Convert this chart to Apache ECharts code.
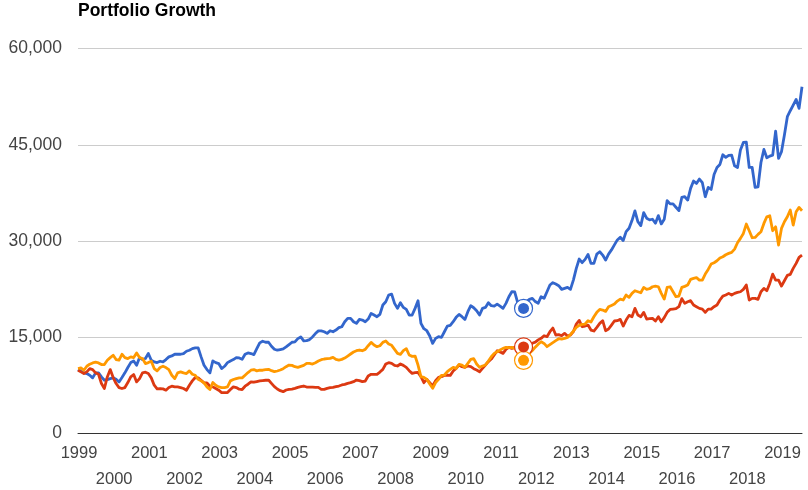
<!DOCTYPE html>
<html><head><meta charset="utf-8">
<style>html,body{margin:0;padding:0;background:#fff}#c{width:808px;height:490px}</style>
<script src="https://cdn.jsdelivr.net/npm/echarts@6/dist/echarts.min.js"></script>
</head><body><div id="c"></div>
<script>
const chartTitle = 'Portfolio Growth';
const firstYear = 1999;
const valueTicks = [0, 15000, 30000, 45000, 60000];
const blueValues = [
9965,9700,9450,9340,9080,8670,9450,9450,8820,8300,8400,8560,
8670,8460,8040,8720,9450,10280,11050,11300,10640,11830,11520,11680,
12460,11420,11160,11050,11260,11160,11520,11940,12090,12350,12350,12350,
12460,12820,12980,13230,13340,13340,11940,10640,9960,9450,11310,11050,
10900,10120,10480,11050,11310,11520,11830,11780,11570,12350,12560,12460,
12300,13230,14120,14380,14220,14220,13600,13130,12980,13080,13180,13490,
13860,14220,14270,14790,15050,14430,14480,14640,15050,15570,15990,15990,
15860,15600,16020,15860,16120,16490,16640,17420,17940,17940,17420,17160,
17780,17680,17420,17840,18720,18460,18200,18560,20020,20540,21580,21730,
20280,19500,20380,19650,19340,18460,18460,19500,20690,17160,16330,16020,
15190,14040,14820,15080,14980,15860,16750,16850,17420,18100,18560,18200,
17780,18980,19920,19600,19140,18460,19500,19650,20380,19920,19860,20170,
19860,19500,20280,21320,22100,22050,20380,20280,20280,20540,20900,21060,
20560,20300,21320,21060,22100,23140,23500,23290,23030,22460,22620,22770,
22460,23910,25730,27190,26620,27140,27910,26510,26510,27960,28330,27810,
27030,27960,28610,29390,30170,30590,30070,31470,31990,33180,34690,33030,
32400,34430,33550,33290,33390,32770,33960,32660,33390,36300,35780,35780,
35260,34740,36790,36900,36380,38200,39340,38970,39650,39080,36900,38350,
38040,40370,41460,41930,43440,43030,43340,43390,41720,41460,44170,45360,
45410,41460,41460,38350,38450,42240,44270,42970,43230,43390,47130,42870,
43910,46510,49370,50300,51180,52060,50660,54030
];
const redValues = [
9860,9600,9340,9600,10120,9960,9450,9240,7790,7010,8820,9960,
8720,7790,7160,7010,7160,7940,8820,9190,8040,8560,9450,9550,
9340,8670,7530,6950,7010,6950,6750,7160,7370,7270,7270,7160,
7010,6750,7530,8200,8720,8670,8300,7890,7890,7370,7270,7010,
6750,6380,6380,6380,6850,7270,7160,6900,6850,7370,7680,8040,
7990,8100,8200,8250,8300,8330,7820,7300,6930,6670,6520,6780,
6880,6930,7040,7190,7300,7400,7240,7240,7240,7190,7190,6880,
6880,7040,7140,7190,7300,7400,7560,7660,7820,7920,8080,8330,
8230,8080,8180,8960,9220,9220,9220,9580,9990,10830,11040,10930,
10620,10520,10830,10620,10310,9790,9370,9480,9530,8850,7920,8440,
7920,7400,8230,8750,8850,9060,9110,9060,9740,10150,10670,10410,
10310,10520,10410,10100,9890,9630,10150,10670,11190,11600,12230,12900,
12700,12490,13110,13420,13270,13420,13270,13270,13420,14050,13550,14070,
14230,14590,14830,15240,15090,15870,16440,15350,15400,15240,15610,15190,
15350,15870,17060,17630,16640,16750,16900,16120,15970,16540,17160,17580,
16020,16280,16900,17530,17580,17790,16750,17680,18410,18200,19500,18460,
18200,18880,17840,17890,17940,17530,18200,17420,18050,18880,19340,19390,
19450,19760,21010,20280,20540,20700,20020,19760,19500,19390,18880,19390,
19390,19760,20020,20800,21420,21580,21840,21580,21840,21990,22090,22460,
23140,20800,21060,21060,20910,22090,22610,22250,23390,24840,23910,23910,
22980,23810,24640,24800,25730,26510,27450,27800
];
const orangeValues = [
10120,10220,9860,10480,10800,11000,11110,11000,10740,10740,11420,11830,
12200,11520,11420,12350,11830,11680,11940,11830,12560,11830,11680,10900,
11050,11260,10120,9760,10280,10480,10280,9960,9080,8560,9450,9600,
9450,9340,9760,9240,9080,8460,8200,7890,7270,6850,7940,7530,
7270,7160,7160,7270,8200,8410,8560,8670,8670,9080,9500,9860,
9960,9760,9860,9860,9960,10000,9790,9640,9740,9890,10100,10410,
10670,10620,10410,10310,10460,10620,10930,10930,10830,11040,11300,11500,
11610,11660,11710,11870,11550,11450,11550,11760,12070,12390,12700,12900,
13010,12900,13110,13680,14200,13790,13530,13680,14200,14410,13940,13740,
13110,12490,12330,12900,13220,12230,12020,12070,10670,8850,8750,8440,
7710,7040,7920,8440,9060,9110,9630,10000,10310,10150,10780,10670,
10310,10930,11550,11660,10830,10310,10520,10670,11300,11970,12490,12750,
13010,13270,13420,13370,13420,13270,12900,12650,12490,12590,12510,12930,
13450,13920,14300,14040,13530,13840,14150,14460,14770,14720,14820,14980,
15400,15970,16540,16850,17010,17060,17580,17370,18200,18880,19340,19240,
19030,19750,19960,20170,20640,20950,20800,21580,21220,21840,22250,22090,
21940,22770,22460,22560,22870,22980,22870,21840,20950,22770,22870,22090,
21320,21420,22770,22930,23140,24020,24170,24280,23910,23910,24840,25570,
26400,26610,26920,27340,27550,27860,28070,28230,28740,29730,30410,31180,
32640,31600,30510,30560,31030,31440,32740,33780,33930,31600,32220,29370,
31960,33000,33780,34820,32480,34560,35240,34720
];
const markerMonth = '2011-09';
const markerBlue = 19500;
const markerRed = 13500;
const markerOrange = 11400;

const BLUE = '#3366CC', RED = '#DC3912', ORANGE = '#FF9900';
const months = blueValues.map((_, i) => {
  const y = firstYear + Math.floor(i / 12), m = i % 12 + 1;
  return y + '-' + String(m).padStart(2, '0');
});
const FONT = 'Arial, "Liberation Sans", sans-serif';

function lineSeries(name, values, color) {
  return { name, type: 'line', data: values, showSymbol: false, smooth: false,
    lineStyle: { color, width: 2.8, join: 'round' }, itemStyle: { color }, silent: true };
}
function markerSeries(name, value, color) {
  return [
    { name: name + ' ring', type: 'scatter', data: [[markerMonth, value]], symbol: 'circle', symbolSize: 18,
      itemStyle: { color: '#fff', borderColor: color, borderWidth: 1.2, opacity: 1 }, z: 5, silent: true },
    { name: name + ' dot', type: 'scatter', data: [[markerMonth, value]], symbol: 'circle', symbolSize: 11,
      itemStyle: { color, opacity: 1 }, z: 6, silent: true }
  ];
}
function yearAxis(odd, margin, showLine) {
  return {
    type: 'category', data: months, boundaryGap: false, position: 'bottom',
    axisTick: { show: false },
    axisLine: { show: showLine, onZero: false, lineStyle: { color: '#333', width: 1 } },
    splitLine: { show: false },
    axisLabel: {
      interval: (i) => i % 12 === 0 && (Math.floor(i / 12) % 2 === 0) === odd,
      hideOverlap: false,
      margin, color: '#444', fontFamily: FONT, fontSize: 16.5, verticalAlign: 'top',
      padding: [0, 0, 0, 2],
      formatter: (v) => v.slice(0, 4)
    }
  };
}
const chart = echarts.init(document.getElementById('c'), null, { renderer: 'canvas' });
chart.setOption({
  animation: false,
  backgroundColor: '#fff',
  title: { text: chartTitle, left: 78, top: 2, padding: 0,
    textStyle: { fontFamily: FONT, fontSize: 17.5, fontWeight: 'bold', color: '#000' } },
  grid: { left: 78, right: 6, top: 48.5, bottom: 56.5, outerBoundsMode: 'none' },
  xAxis: [ yearAxis(true, 11.5, true), yearAxis(false, 37, false) ],
  yAxis: {
    type: 'value', min: valueTicks[0], max: valueTicks[valueTicks.length - 1], interval: valueTicks[1],
    axisLine: { show: false }, axisTick: { show: false },
    splitLine: { lineStyle: { color: '#ccc', width: 1 } },
    axisLabel: { margin: 16, color: '#444', fontFamily: FONT, fontSize: 17.5, padding: [2, 0, 0, 0],
      formatter: (v) => v.toLocaleString('en-US') }
  },
  series: [
    lineSeries('Blue', blueValues, BLUE),
    lineSeries('Red', redValues, RED),
    lineSeries('Orange', orangeValues, ORANGE),
    ...markerSeries('Blue marker', markerBlue, BLUE),
    ...markerSeries('Red marker', markerRed, RED),
    ...markerSeries('Orange marker', markerOrange, ORANGE)
  ]
});
</script></body></html>
